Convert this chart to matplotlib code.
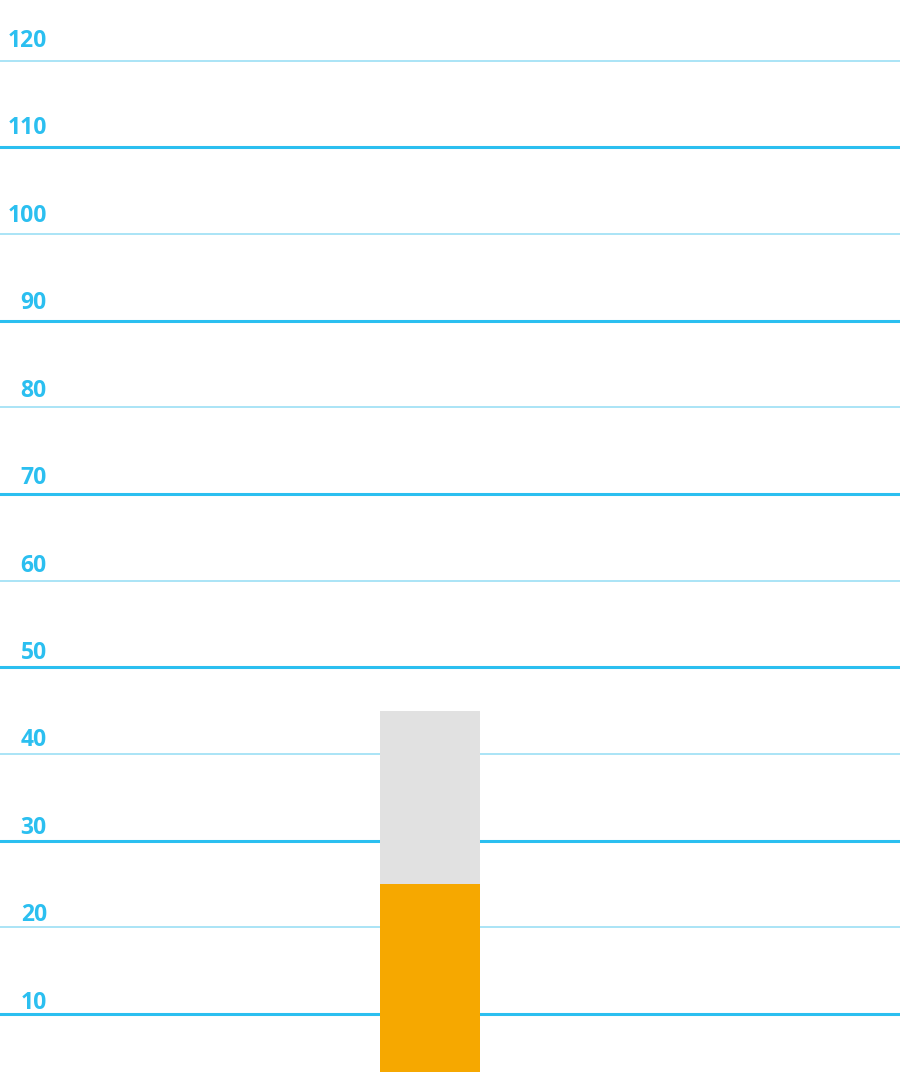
import matplotlib
matplotlib.use("Agg")
import matplotlib.pyplot as plt
import matplotlib.transforms as mtransforms

# data
categories = ["A"]
base_values = [25]
top_values = [20]
grid_values = [10, 20, 30, 40, 50, 60, 70, 80, 90, 100, 110, 120]

blue = "#2bbff0"
light_blue = "#93dcf4"
orange = "#f6a800"
grey = "#e1e1e1"

fig = plt.figure(figsize=(9, 10.72), dpi=100)
ax = fig.add_axes([0, 0, 1, 1])

# grid lines, odd tens thicker
for v in grid_values:
    if (v // 10) % 2 == 1:
        ax.axhline(v, color=blue, lw=2.2, zorder=1)
    else:
        ax.axhline(v, color=light_blue, lw=1.1, zorder=1)

x = range(len(categories))
ax.bar(x, base_values, width=1.0, color=orange, zorder=2)
ax.bar(x, top_values, bottom=base_values, width=1.0, color=grey, zorder=2)

ax.set_xlim(-4.3, 4.7)
ax.set_ylim(3.3, 127.0)
ax.axis("off")

trans = mtransforms.blended_transform_factory(ax.transAxes, ax.transData)
for v in grid_values:
    off_px = 11 + (v - 10) / 110 * 9
    ax.annotate(str(v), xy=(0.052, v), xycoords=trans,
                xytext=(0, off_px * 72 / 100), textcoords="offset points",
                ha="right", va="center", fontsize=16.5, fontweight="bold",
                color=blue, family=["Open Sans", "DejaVu Sans"])

fig.savefig("out.png", dpi=100)
